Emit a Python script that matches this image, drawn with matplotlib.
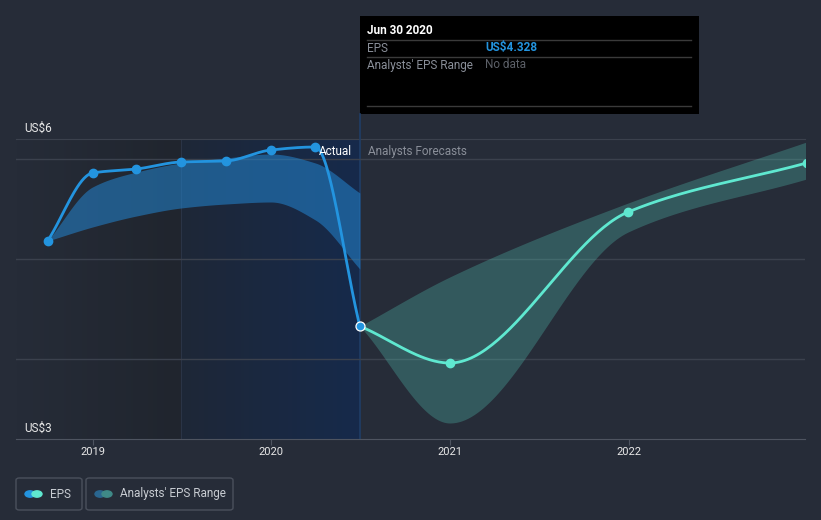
import numpy as np
import pandas as pd
import matplotlib
matplotlib.use("Agg")
import matplotlib.pyplot as plt
import matplotlib.dates as mdates
from matplotlib.patches import Rectangle, FancyBboxPatch, Circle
from matplotlib.lines import Line2D

plt.rcParams['font.family'] = ['Roboto', 'DejaVu Sans']

# ---- data ----
actual_dates = ['2018-09-30', '2018-12-31', '2019-03-31', '2019-06-30',
                '2019-09-30', '2019-12-31', '2020-03-31', '2020-06-30']
actual_eps = [5.18, 5.86, 5.90, 5.97, 5.98, 6.09, 6.12, 4.328]
past_range_high = [5.18, 5.72, 5.87, 5.96, 6.01, 6.05, 5.96, 5.66]
past_range_low = [5.18, 5.32, 5.43, 5.51, 5.55, 5.57, 5.39, 4.90]

fc_dates = ['2020-06-30', '2020-12-31', '2021-12-31', '2022-12-31']
fc_eps = [4.328, 3.96, 5.47, 5.96]
fc_high = [4.328, 4.82, 5.56, 6.17]
fc_low = [4.328, 3.36, 5.27, 5.80]

year_ticks = ['2019-01-01', '2020-01-01', '2021-01-01', '2022-01-01']
year_labels = ['2019', '2020', '2021', '2022']
grid_vals = [4, 5, 6]

BG = '#262c38'
BLUE = '#2394df'
TEAL = '#5fe8d0'
W, H = 821, 520


def monotone(x, y, n=60):
    # monotone cubic (Fritsch-Carlson), same look as d3 curveMonotoneX
    x = np.asarray(x, float)
    y = np.asarray(y, float)
    h = np.diff(x)
    d = np.diff(y) / h
    m = np.zeros_like(y)
    m[0], m[-1] = d[0], d[-1]
    for i in range(1, len(y) - 1):
        if d[i - 1] * d[i] <= 0:
            m[i] = 0
        else:
            w1 = 2 * h[i] + h[i - 1]
            w2 = h[i] + 2 * h[i - 1]
            m[i] = (w1 + w2) / (w1 / d[i - 1] + w2 / d[i])
    xs, ys = [], []
    for i in range(len(h)):
        t = np.linspace(0, 1, n)
        h00 = 2 * t**3 - 3 * t**2 + 1
        h10 = t**3 - 2 * t**2 + t
        h01 = -2 * t**3 + 3 * t**2
        h11 = t**3 - t**2
        xs.append(x[i] + t * h[i])
        ys.append(h00 * y[i] + h10 * h[i] * m[i] + h01 * y[i + 1] + h11 * h[i] * m[i + 1])
    return np.concatenate(xs), np.concatenate(ys)


ax_x = mdates.date2num(pd.to_datetime(actual_dates))
fx = mdates.date2num(pd.to_datetime(fc_dates))

fig = plt.figure(figsize=(W / 100, H / 100), dpi=100, facecolor=BG)
ax = fig.add_axes([16 / W, 1 - 439 / H, (805 - 16) / W, 300 / H])
ax.set_facecolor(BG)

# x range: 93px = 2019, 178.5px per year
x2019 = mdates.date2num(pd.Timestamp('2019-01-01'))
day_px = 178.5 / 365.25
xmin = x2019 - (93 - 16) / day_px
xmax = x2019 + (805 - 93) / day_px
ax.set_xlim(xmin, xmax)
ax.set_ylim(3.2, 6.2)

# background shading
x_split = mdates.date2num(pd.Timestamp('2019-06-30'))
x_now = mdates.date2num(pd.Timestamp('2020-06-30'))
g1 = np.linspace(0, 1, 100)
c_a, c_b = np.array([38, 44, 56]) / 255, np.array([32, 37, 46]) / 255
grad1 = (c_a[None, :] * (1 - g1[:, None]) + c_b[None, :] * g1[:, None])[None, :, :]
ax.imshow(grad1, extent=[xmin, x_split, 3.2, 6.2], aspect='auto', zorder=0)
c_c, c_d = np.array([30, 39, 55]) / 255, np.array([22, 42, 75]) / 255
grad2 = (c_c[None, :] * (1 - g1[:, None]) + c_d[None, :] * g1[:, None])[None, :, :]
ax.imshow(grad2, extent=[x_split, x_now, 3.2, 6.2], aspect='auto', zorder=0)
ax.axvline(x_split, color='#2a3446', lw=0.8, zorder=1)
ax.axvline(x_now, color='#1f3d66', lw=1.2, zorder=1)

for g in grid_vals:
    ax.axhline(g, color='#3b414d', lw=1, zorder=1)

# ranges
sx, sh = monotone(ax_x, past_range_high)
_, sl = monotone(ax_x, past_range_low)
ax.fill_between(sx, sl, sh, color='#2385d0', alpha=0.55, lw=0, zorder=2)
fxs, fhs = monotone(fx, fc_high)
_, fls = monotone(fx, fc_low)
ax.fill_between(fxs, fls, fhs, color='#58d6c2', alpha=0.27, lw=0, zorder=2)

# lines
lx, ly = monotone(ax_x, actual_eps)
ax.plot(lx, ly, color=BLUE, lw=2, zorder=3)
ax.plot(ax_x[:-1], actual_eps[:-1], 'o', color=BLUE, ms=6, zorder=4)
flx, fly = monotone(fx, fc_eps)
ax.plot(flx, fly, color=TEAL, lw=2, zorder=3)
ax.plot(fx[1:], fc_eps[1:], 'o', color=TEAL, ms=6, zorder=4)
ax.plot(ax_x[-1], actual_eps[-1], 'o', color=BLUE, ms=6.5, mec='white', mew=0.9, zorder=5)

# axes styling
for s in ['left', 'right']:
    ax.spines[s].set_visible(False)
ax.spines['top'].set_color('#3b414d')
ax.spines['bottom'].set_color('#4e5460')
ax.set_yticks([])
ax.set_xticks(mdates.date2num(pd.to_datetime(year_ticks)))
ax.set_xticklabels(year_labels)
ax.tick_params(axis='x', colors='#4e5460', labelcolor='#e8e8e8', labelsize=8, length=4, pad=2)

ax.text(0.01, 6.24, 'US$6', transform=ax.get_yaxis_transform(), color='#e8e8e8',
        fontsize=8.5, va='bottom', ha='left')
ax.text(0.01, 3.24, 'US$3', transform=ax.get_yaxis_transform(), color='#e8e8e8',
        fontsize=8.5, va='bottom', ha='left')
ax.text(x_now - 8 / day_px, 6.075, 'Actual', color='white', fontsize=8.5, ha='right', va='center', zorder=6)
ax.text(x_now + 8 / day_px, 6.075, 'Analysts Forecasts', color='#8a8f99', fontsize=8.5,
        ha='left', va='center', zorder=6)


def P(x, y):
    return x / W, 1 - y / H


# tooltip
fig.add_artist(Line2D([359.5 / W, 359.5 / W], [1 - 114 / H, 1 - 139 / H], color='#1f3d66', lw=1.2))
fig.add_artist(Rectangle(P(360, 114), 339 / W, 98 / H, facecolor='black', edgecolor='none'))
for yy in [40, 57, 106]:
    fig.add_artist(Line2D([367 / W, 691 / W], [1 - yy / H] * 2, color='#3a3a3a', lw=1))
fig.text(*P(367, 31), 'Jun 30 2020', color='white', fontsize=8.5, fontweight='bold', va='center')
fig.text(*P(367, 48), 'EPS', color='#8a8f99', fontsize=8.5, va='center')
fig.text(*P(485, 48), 'US$4.328', color=BLUE, fontsize=8.5, fontweight='bold', va='center')
fig.text(*P(367, 65), "Analysts' EPS Range", color='#8a8f99', fontsize=8.5, va='center')
fig.text(*P(485, 65), 'No data', color='#5c6068', fontsize=8.5, va='center')

# legend
for x0, x1 in [(16, 82), (86, 233)]:
    fig.add_artist(FancyBboxPatch(P(x0, 510), (x1 - x0) / W, 32 / H,
                                  boxstyle='round,pad=0,rounding_size=0.004',
                                  facecolor='none', edgecolor='#4a505c', lw=1))
for cx, col in [(30, BLUE), (37, TEAL), (100, '#2a6690'), (107, '#3f8a88')]:
    fig.add_artist(Circle(P(cx, 494), 5 / W, color=col, transform=fig.transFigure))
fig.text(*P(50, 494), 'EPS', color='#c8ccd2', fontsize=8.5, va='center')
fig.text(*P(120, 494), "Analysts' EPS Range", color='#c8ccd2', fontsize=8.5, va='center')

fig.savefig('out.png', dpi=100, facecolor=BG)
